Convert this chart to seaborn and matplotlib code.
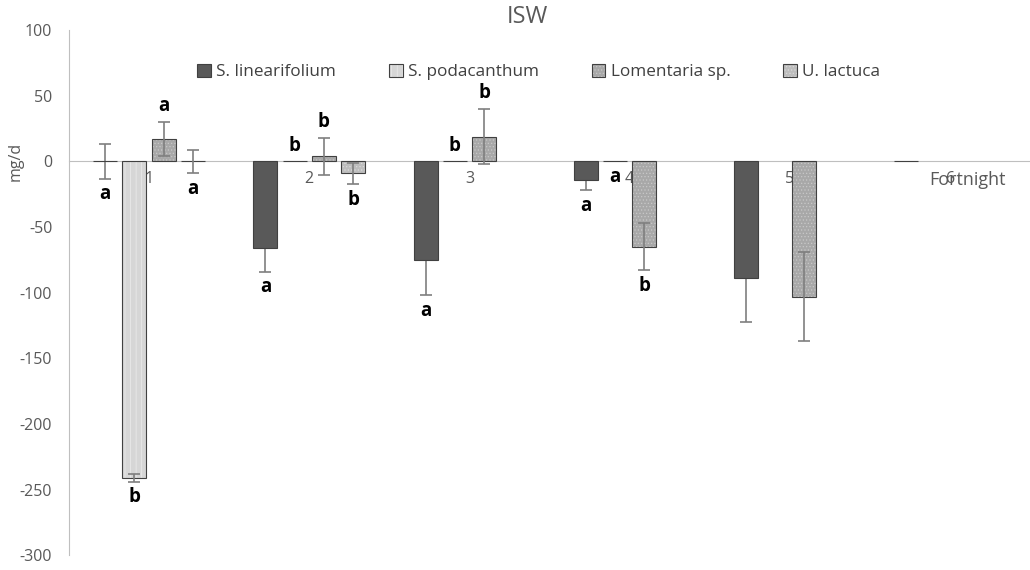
import numpy as np
import pandas as pd
import matplotlib
matplotlib.use('Agg')
import matplotlib.pyplot as plt
import matplotlib.colors as mcolors
import seaborn as sns

# data (NaN = no bar)
fortnights = ['1', '2', '3', '4', '5', '6']
species = ['S. linearifolium', 'S. podacanthum', 'Lomentaria sp.', 'U. lactuca']

s_lin = [0, -66, -75, -14, -89, 0]
s_lin_err = [13, 18, 27, 8, 33, 0]
s_pod = [-241, 0, 0, 0, np.nan, np.nan]
s_pod_err = [3, 0, 0, 0, 0, 0]
loment = [17, 4, 19, -65, -103, np.nan]
loment_err = [13, 14, 21, 18, 34, 0]
u_lac = [0, -9, np.nan, np.nan, np.nan, np.nan]
u_lac_err = [9, 8, 0, 0, 0, 0]

letters_lin = ['a', 'a', 'a', 'a', '', '']
letters_pod = ['b', 'b', 'b', 'a', '', '']
letters_lom = ['a', 'b', 'b', 'b', '', '']
letters_lac = ['a', 'b', '', '', '', '']
# which side of the bar the letter sits on
side_lin = [-1, -1, -1, -1, 0, 0]
side_pod = [-1, 1, 1, -1, 0, 0]
side_lom = [1, 1, 1, -1, 0, 0]
side_lac = [-1, -1, 0, 0, 0, 0]

values = [s_lin, s_pod, loment, u_lac]
errors = [s_lin_err, s_pod_err, loment_err, u_lac_err]
letters = [letters_lin, letters_pod, letters_lom, letters_lac]
sides = [side_lin, side_pod, side_lom, side_lac]

colors = ['#595959', '#d6d6d6', '#a8a8a8', '#bdbdbd']
hatches = ['', '|||', '.....', '.....']
hatch_colors = ['#595959', '#ececec', '#c8c8c8', '#dadada']
err_on_top = [False, True, True, True]

rows = []
for sp, vals in zip(species, values):
    for f, v in zip(fortnights, vals):
        rows.append({'Fortnight': f, 'Species': sp, 'mg/d': v})
df = pd.DataFrame(rows).dropna()

plt.rcParams['font.family'] = ['Open Sans', 'DejaVu Sans']
plt.rcParams['axes.unicode_minus'] = False
plt.rcParams['hatch.linewidth'] = 0.5

fig = plt.figure(figsize=(10.3, 5.7), dpi=100)
ax = fig.add_axes([0.067, 0.026, 0.933, 0.921])

sns.barplot(data=df, x='Fortnight', y='mg/d', hue='Species', order=fortnights,
            hue_order=species, palette=colors, width=0.73, gap=0.18,
            errorbar=None, edgecolor='#404040', linewidth=0.8, legend=True, ax=ax)


def style_bar(p, i):
    p.set_hatch(hatches[i])
    p._hatch_color = mcolors.to_rgba(hatch_colors[i])


bar_groups = list(ax.containers)
for i, cont in enumerate(bar_groups):
    for bar in cont:
        style_bar(bar, i)
        bar.set_zorder(2)
        x = bar.get_x() + bar.get_width() / 2
        k = int(round(x))
        v = values[i][k]
        e = errors[i][k]
        if e > 0:
            ax.errorbar(x, v, yerr=e, fmt='none', ecolor='#7f7f7f',
                        elinewidth=1.2, capsize=4, capthick=1.2,
                        zorder=3 if err_on_top[i] else 1)
        if letters[i][k]:
            y = v + sides[i][k] * (e + 12)
            ax.text(x, y, letters[i][k], ha='center', va='center',
                    fontsize=13.5, fontweight='bold', color='black')

ax.set_ylim(-300, 100)
ax.set_yticks(range(-300, 101, 50))
ax.set_xlim(-0.5, 5.5)
for s in ['top', 'right']:
    ax.spines[s].set_visible(False)
ax.spines['bottom'].set_position(('data', 0))
ax.spines['bottom'].set_color('#bfbfbf')
ax.spines['left'].set_color('#bfbfbf')
ax.spines['bottom'].set_zorder(1.5)
ax.tick_params(axis='both', length=0, colors='#595959', labelsize=11.5)
ax.tick_params(axis='y', pad=12)
ax.tick_params(axis='x', pad=7)
ax.set_xlabel('')
ax.set_ylabel('mg/d', color='#595959', fontsize=11.5)
ax.yaxis.set_label_coords(-0.047, 0.75)

ax.annotate('Fortnight', xy=(0.935, -14), xycoords=('axes fraction', 'data'),
            ha='center', va='center', fontsize=13, color='#595959')

fig.text(0.512, 0.97, 'ISW', ha='center', va='center', fontsize=17, color='#595959')

handles, labels = ax.get_legend_handles_labels()
ax.get_legend().remove()
for i, h in enumerate(handles):
    style_bar(h, i)
fig.legend(handles, labels, loc='center', bbox_to_anchor=(0.523, 0.874), ncol=4,
           frameon=False, handlelength=0.8, handleheight=0.8, handletextpad=0.3,
           columnspacing=3.1, fontsize=12.3, labelcolor='#404040')

fig.savefig('out.png', dpi=100)
